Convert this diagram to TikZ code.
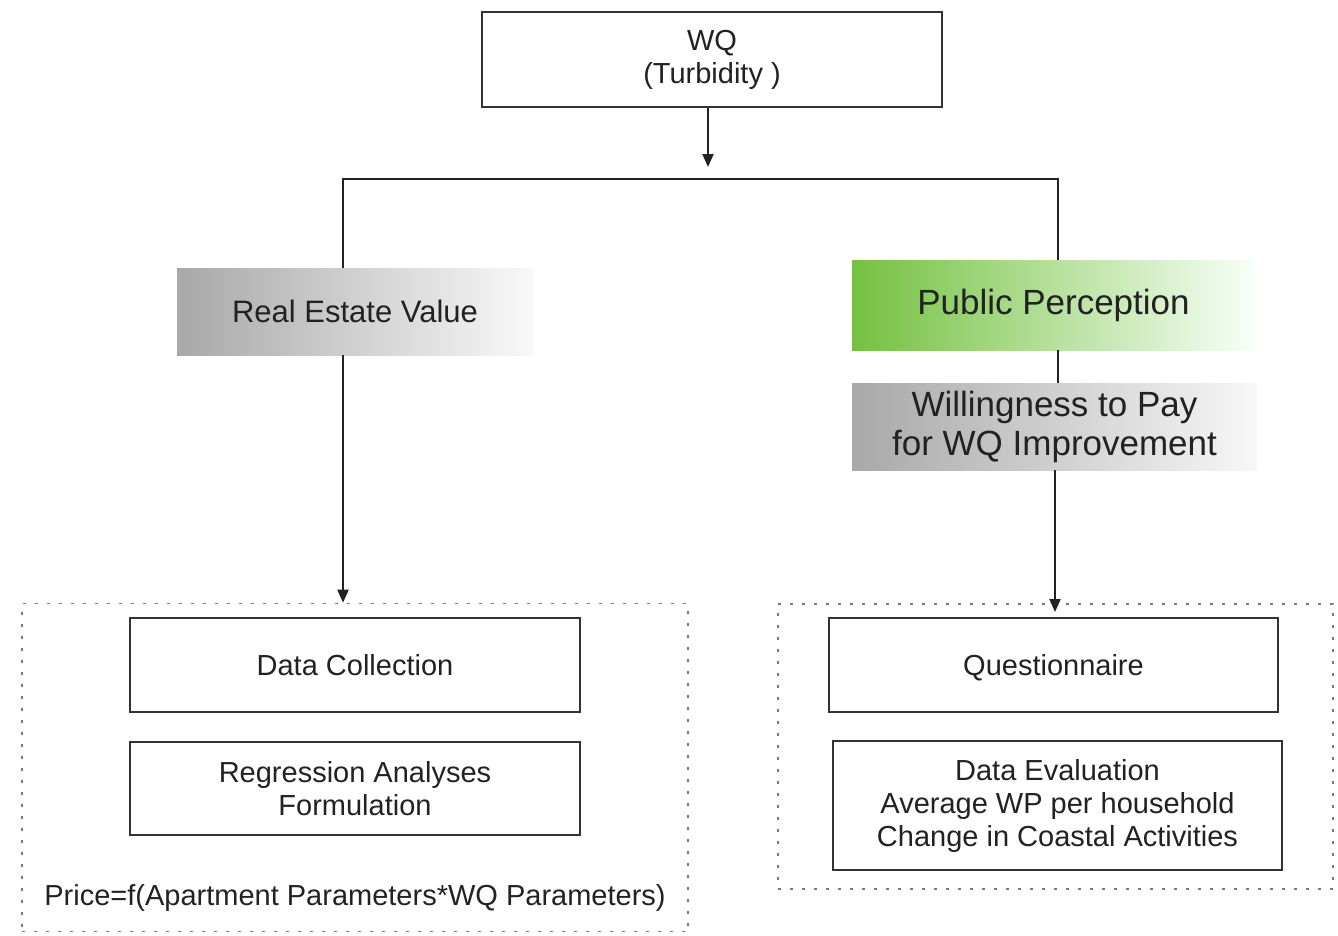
\documentclass[tikz,border=0pt]{standalone}
\usepackage{fontspec}
\setmainfont{Liberation Sans}
\usetikzlibrary{arrows.meta}
\definecolor{ink}{HTML}{222222}
\definecolor{boxline}{HTML}{333333}
\definecolor{greenL}{HTML}{74C140}
\definecolor{grayL}{HTML}{A8A8A8}
\definecolor{dotc}{HTML}{7A7A7A}
\tikzset{
  plainbox/.style={draw=boxline, line width=2.7pt, fill=white, text=ink, align=center,
    inner sep=0pt, font=\fontsize{29}{33}\selectfont},
  gradbox/.style={inner sep=0pt, text=ink, align=center},
  dotbox/.style={draw=dotc, line width=1.6pt, dash pattern=on 3pt off 9pt, inner sep=0pt},
  conn/.style={draw=ink, line width=2pt},
  arr/.style={conn, -{Triangle[length=13pt,width=11pt]}},
  freetext/.style={text=ink, inner sep=0pt, font=\fontsize{29}{33}\selectfont}
}
\begin{document}
\begin{tikzpicture}[x=1pt,y=-1pt]
\useasboundingbox (0,0) rectangle (1338,935);
% dotted frames
\node[dotbox, minimum width=666pt, minimum height=328pt] (lbox) at (355,767.5) {};
\node[dotbox, minimum width=555pt, minimum height=285pt] (rbox) at (1055.5,746.5) {};
% top box
\node[plainbox, minimum width=460pt, minimum height=95pt] (wq) at (712,59.5) {WQ\\(Turbidity )};
% gradient boxes
\node[gradbox, left color=grayL, right color=white!95!gray, minimum width=356pt, minimum height=87pt,
  font=\fontsize{31}{35}\selectfont] (re) at (355,311.5) {Real Estate Value};
\node[gradbox, left color=greenL, right color=white!97!green, minimum width=403pt, minimum height=90pt,
  font=\fontsize{35}{39}\selectfont] (pp) at (1053.5,305) {Public Perception};
\node[gradbox, left color=grayL, right color=white!94!gray, minimum width=405pt, minimum height=87pt,
  font=\fontsize{35}{39}\selectfont] (wtp) at (1054.5,426.5) {Willingness to Pay\\for WQ Improvement};
% inner boxes
\node[plainbox, minimum width=450pt, minimum height=94pt] (dc) at (355,665) {Data Collection};
\node[plainbox, minimum width=450pt, minimum height=93pt] (ra) at (355,788.5) {Regression Analyses\\Formulation};
\node[freetext] (price) at (355,898) {Price=f(Apartment Parameters*WQ Parameters)};
\node[plainbox, minimum width=449pt, minimum height=94pt, text depth=0pt] (qn) at (1053.5,665) {Questionnaire};
\node[plainbox, minimum width=449pt, minimum height=129pt] (de) at (1057.5,805.5) {Data Evaluation\\Average WP per household\\Change in Coastal Activities};
% connectors
\coordinate (wqin) at (708,167);
\coordinate (bl) at (343,179);
\coordinate (br) at (1058,179);
\coordinate (rin) at (1055,612);
\draw[arr] (wq.south -| wqin) -- (wqin);
\draw[conn] (re.north -| bl) -- (bl) -- (br) -- (pp.north -| br);
\draw[arr] (re.south -| bl) -- (lbox.north -| bl);
\draw[conn] (pp.south -| br) -- (wtp.north -| br);
\draw[arr] (wtp.south -| rin) -- (rin);
\end{tikzpicture}
\end{document}
